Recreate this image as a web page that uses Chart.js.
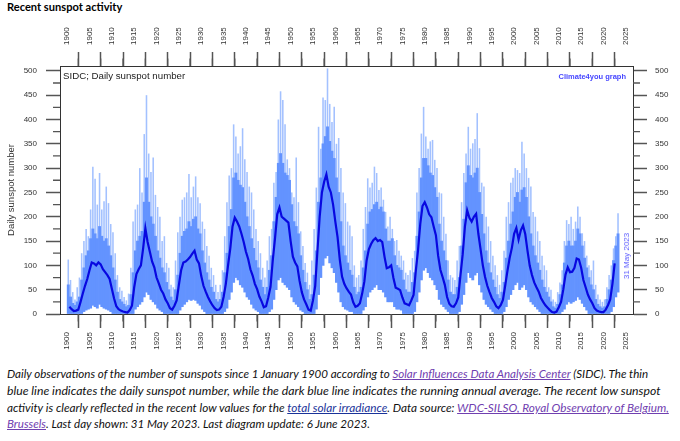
<!DOCTYPE html>
<html><head><meta charset="utf-8">
<script src="https://cdn.jsdelivr.net/npm/chart.js@4.4.0/dist/chart.umd.min.js"></script>
<style>
html,body{margin:0;padding:0;background:#fff;}
body{width:680px;height:441px;position:relative;overflow:hidden;font-family:"Liberation Sans",Arial,sans-serif;}
#title{position:absolute;left:7px;top:0px;font:bold 11px Lato,sans-serif;color:#000;white-space:nowrap;transform-origin:0 0;display:inline-block;}
#chartBox{position:absolute;left:0;top:0;width:680px;height:365px;}
.ann{position:absolute;white-space:nowrap;line-height:1;}
#sidc{left:63px;top:71px;font-size:9.7px;color:#222;}
#c4y{right:54px;top:73px;font-size:7.5px;font-weight:bold;color:#4646ff;}
#date{left:626.5px;top:256px;font-size:8px;color:#5a5aff;transform:translate(-50%,-50%) rotate(-90deg);}
.cap{position:absolute;left:7px;font:italic 11px Lato,sans-serif;color:#111;white-space:nowrap;transform-origin:0 50%;display:inline-block;line-height:13px;}
a.v{color:#7040b0;text-decoration:underline;}
a.u{color:#1a3399;text-decoration:underline;}
</style>
</head><body>
<div id="title">Recent sunspot activity</div>
<div id="chartBox"><canvas id="c" width="680" height="365" style="width:680px;height:365px;"></canvas></div>
<div class="ann" id="sidc">SIDC; Daily sunspot number</div>
<div class="ann" id="c4y">Climate4you graph</div>
<div class="ann" id="date">31 May 2023</div>
<div class="cap" id="l1" style="top:367px">Daily observations of the number of sunspots since 1 January 1900 according to <a class="v">Solar Influences Data Analysis Center</a> (SIDC). The thin</div>
<div class="cap" id="l2" style="top:384px">blue line indicates the daily sunspot number, while the dark blue line indicates the running annual average. The recent low sunspot</div>
<div class="cap" id="l3" style="top:401px">activity is clearly reflected in the recent low values for the <a class="u">total solar irradiance</a>. Data source: <a class="v">WDC-SILSO, Royal Observatory of Belgium,</a></div>
<div class="cap" id="l4" style="top:417px"><a class="v">Brussels</a>. Last day shown: 31 May 2023. Last diagram update: 6 June 2023.</div>
<script>
// half-year steps starting 1900.0
const startYear = 1900;
const stepYears = 0.5;

// running annual average (dark blue line)
const avg = [
 null,15,10,6,7,9,25,42,58,72,90,106,104,100,106,102,92,86,80,72,
 52,32,16,10,7,5,4,3,8,17,55,82,92,100,135,176,148,128,108,96,
 75,63,50,42,30,22,12,9,17,28,60,90,106,108,112,117,124,130,112,104,
 78,58,46,35,26,18,12,8,9,15,35,62,100,135,180,198,190,180,165,148,
 128,113,92,79,62,51,36,26,14,16,34,56,110,155,205,219,200,196,192,188,
 150,118,106,98,68,45,30,20,9,7,28,58,130,200,250,272,287,262,250,225,
 190,158,112,77,62,53,46,40,24,15,17,22,42,67,110,133,144,152,156,150,
 152,148,118,94,96,100,74,54,52,49,34,22,20,18,28,39,88,131,185,222,
 230,219,205,199,180,162,120,91,76,60,35,21,16,15,22,34,80,123,180,213,
 198,190,200,206,165,133,100,76,58,45,33,25,16,12,18,29,58,88,115,136,
 165,177,153,172,182,164,130,99,80,65,55,46,33,25,18,13,8,4,3,5,
 14,25,50,81,96,86,87,95,114,112,95,70,55,40,30,22,12,7,5,4,
 4,9,18,30,62,104,null
];

// daily sunspot number per half-year: highest day
const dailyMax = [
 112,70,45,30,55,75,125,150,175,160,215,303,278,225,290,215,232,262,228,185,
 168,125,80,55,48,35,28,42,95,190,215,225,300,250,370,450,330,292,322,245,
 220,200,150,160,105,95,60,55,110,168,200,235,240,250,288,240,262,283,240,228,
 190,175,140,120,95,80,60,45,60,90,160,230,285,300,390,365,330,345,382,318,
 292,262,250,215,175,150,125,95,75,110,160,175,270,292,400,458,440,390,318,300,
 250,240,322,230,170,140,105,85,60,110,175,260,385,340,445,440,505,432,395,426,
 350,362,300,250,228,190,182,160,100,75,80,110,175,220,279,260,270,303,290,255,
 260,235,210,180,200,175,150,152,130,120,110,85,80,90,115,130,250,300,371,426,
 365,340,355,358,317,300,250,248,200,165,110,80,75,70,110,140,230,290,330,385,
 340,351,360,413,341,270,262,200,180,150,120,100,80,60,90,130,200,230,270,280,
 300,296,290,354,330,300,280,262,210,200,170,150,120,100,90,55,50,30,25,45,
 65,90,150,193,185,200,175,190,221,200,166,150,120,100,90,110,60,40,30,25,
 30,55,80,100,135,160,207
];

// daily sunspot number per half-year: top of the dense band
const dailyCore = [
 60,35,22,18,25,35,70,95,120,130,155,175,165,155,180,160,150,155,140,120,
 95,70,45,30,25,20,15,18,40,85,130,150,160,170,230,280,230,200,185,160,
 130,115,95,85,65,50,35,28,50,80,125,160,170,175,190,180,195,200,175,165,
 130,105,85,70,55,45,30,25,30,45,85,125,180,215,280,290,275,265,260,230,
 200,180,155,135,110,95,70,55,40,55,90,120,190,240,310,330,310,290,285,275,
 225,190,180,165,120,90,65,50,30,40,80,130,230,280,350,365,385,355,335,320,
 280,250,190,140,120,105,90,80,55,40,45,55,95,130,185,210,215,225,230,215,
 220,210,175,150,150,155,120,100,95,90,70,50,45,45,65,85,160,210,280,320,
 320,305,290,285,260,240,185,150,130,110,70,45,40,40,55,75,140,195,270,305,
 285,280,290,300,250,205,165,130,105,85,70,55,40,32,45,65,115,150,185,210,
 240,250,230,255,260,240,200,165,140,120,105,90,70,55,45,35,25,15,12,20,
 40,60,105,140,150,140,140,150,175,165,140,115,95,75,60,50,30,20,15,12,
 15,30,50,70,110,140,165
];

// daily sunspot number per half-year: lowest day
const dailyMin = [
 0,0,0,0,0,0,0,5,8,10,12,18,15,12,20,15,12,10,8,5,
 0,0,0,0,0,0,0,0,0,0,10,15,20,25,35,45,40,30,25,20,
 12,8,5,0,0,0,0,0,0,0,8,15,20,25,30,28,30,28,22,18,
 10,5,0,0,0,0,0,0,0,0,5,12,30,45,65,75,70,60,55,45,
 35,30,20,12,8,5,0,0,0,0,5,10,30,50,70,75,65,60,55,50,
 35,25,20,15,8,5,0,0,0,0,0,10,40,75,100,115,120,105,95,85,
 65,45,25,15,10,8,5,5,0,0,0,0,8,15,35,45,50,55,60,50,
 50,45,35,25,25,25,15,10,10,8,0,0,0,0,0,5,25,45,70,90,
 95,85,75,70,60,50,30,20,15,10,5,0,0,0,0,5,20,40,65,85,
 75,70,80,85,60,45,30,20,15,10,5,0,0,0,0,5,15,30,40,50,
 60,65,50,55,60,50,35,25,20,15,10,5,0,0,0,0,0,0,0,0,
 0,5,10,20,25,22,25,28,35,30,22,15,8,0,0,0,0,0,0,0,
 0,0,0,5,15,35,45
];

const xTickYears = [1900,1905,1910,1915,1920,1925,1930,1935,1940,1945,1950,1955,1960,1965,1970,1975,1980,1985,1990,1995,2000,2005,2010,2015,2020,2025];
const yTickValues = [0,50,100,150,200,250,300,350,400,450,500];
const xMin = 1898.4, xMax = 2026.6, yMin = 0, yMax = 510;

const barPts = hi => dailyMin.map((lo,i)=>({x:startYear+stepYears*(i+0.5), y:[lo, hi[i]]}));
const avgPts = avg.map((v,i)=>({x:startYear+stepYears*i, y:v}));

const tickFont = {family:'Liberation Sans', size:8, lineHeight:1.2};
const gridOpts = {display:true, drawOnChartArea:false, drawTicks:true, tickLength:14, tickColor:'#555', tickWidth:1.5};
const borderOpts = {display:true, color:'#333', width:1};

const minorTicks = {
  id:'minorTicks',
  afterDraw(chart){
    const {ctx, chartArea:a, scales} = chart;
    ctx.save(); ctx.strokeStyle='#555'; ctx.lineWidth=1.3; ctx.beginPath();
    for (const v of xTickYears){ const m=v+2.5; if(m>xMax) continue; const px=scales.x.getPixelForValue(m);
      ctx.moveTo(px,a.bottom); ctx.lineTo(px,a.bottom+7.5); ctx.moveTo(px,a.top); ctx.lineTo(px,a.top-7.5);}
    for (const v of yTickValues){ const m=v+25; if(m>yMax) continue; const py=scales.y.getPixelForValue(m);
      ctx.moveTo(a.left,py); ctx.lineTo(a.left-7,py); ctx.moveTo(a.right,py); ctx.lineTo(a.right+7,py);}
    ctx.stroke(); ctx.restore();
  }
};

const xAxis = (pos, h, pad, lblOff) => ({
  type:'linear', position:pos, min:xMin, max:xMax, offset:false,
  afterBuildTicks: s=>{ s.ticks = xTickYears.map(v=>({value:v})); },
  afterFit: s=>{ s.height = h; },
  ticks:{autoSkip:false, minRotation:90, maxRotation:90, padding:pad, labelOffset:lblOff, font:tickFont, color:'#333', callback:v=>String(v)},
  grid:gridOpts, border:borderOpts
});
const yAxis = (pos, w, pad, title) => ({
  type:'linear', position:pos, min:yMin, max:yMax,
  afterBuildTicks: s=>{ s.ticks = yTickValues.map(v=>({value:v})); },
  afterFit: s=>{ s.width = w; },
  ticks:{padding:pad, font:tickFont, color:'#333', callback:v=>String(v)},
  grid:gridOpts, border:borderOpts,
  title: title ? {display:true, text:title, color:'#333', font:{family:'Liberation Sans', size:9.5}, padding:{top:6,bottom:0}} : {display:false}
});

new Chart(document.getElementById('c'), {
  type:'bar',
  data:{datasets:[
    {type:'line', label:'Running annual average', data:avgPts, xAxisID:'x', yAxisID:'y', borderColor:'#0808e0', borderWidth:2.2, pointRadius:0, fill:false, tension:0, spanGaps:false, order:0},
    {label:'Daily (dense band)', data:barPts(dailyCore), xAxisID:'x', yAxisID:'y', backgroundColor:'#6393ff', borderWidth:0, grouped:false, barPercentage:1, categoryPercentage:1, order:1},
    {label:'Daily (peaks)', data:barPts(dailyMax), xAxisID:'x', yAxisID:'y', backgroundColor:'#a3c1ff', borderWidth:0, grouped:false, barPercentage:0.7, categoryPercentage:1, order:2}
  ]},
  options:{
    responsive:false, animation:false, devicePixelRatio:1,
    layout:{padding:0, autoPadding:false},
    plugins:{legend:{display:false}, tooltip:{enabled:false}},
    scales:{
      x: xAxis('bottom', 51, 4, 0),
      x2: xAxis('top', 66, 7, 9.6),
      y: yAxis('left', 60, 9, 'Daily sunspot number'),
      y2: yAxis('right', 47, 8, null)
    }
  },
  plugins:[minorTicks]
});

function fit(id, target){
  const el = document.getElementById(id);
  const w = el.offsetWidth;
  if (w>0) el.style.transform = 'scaleX(' + (target/w) + ')';
}
function fitAll(){
  fit('title', 115);
  fit('l1', 641); fit('l2', 654); fit('l3', 662); fit('l4', 363);
}
fitAll();
if (document.fonts && document.fonts.ready) document.fonts.ready.then(fitAll);
</script>
</body></html>
